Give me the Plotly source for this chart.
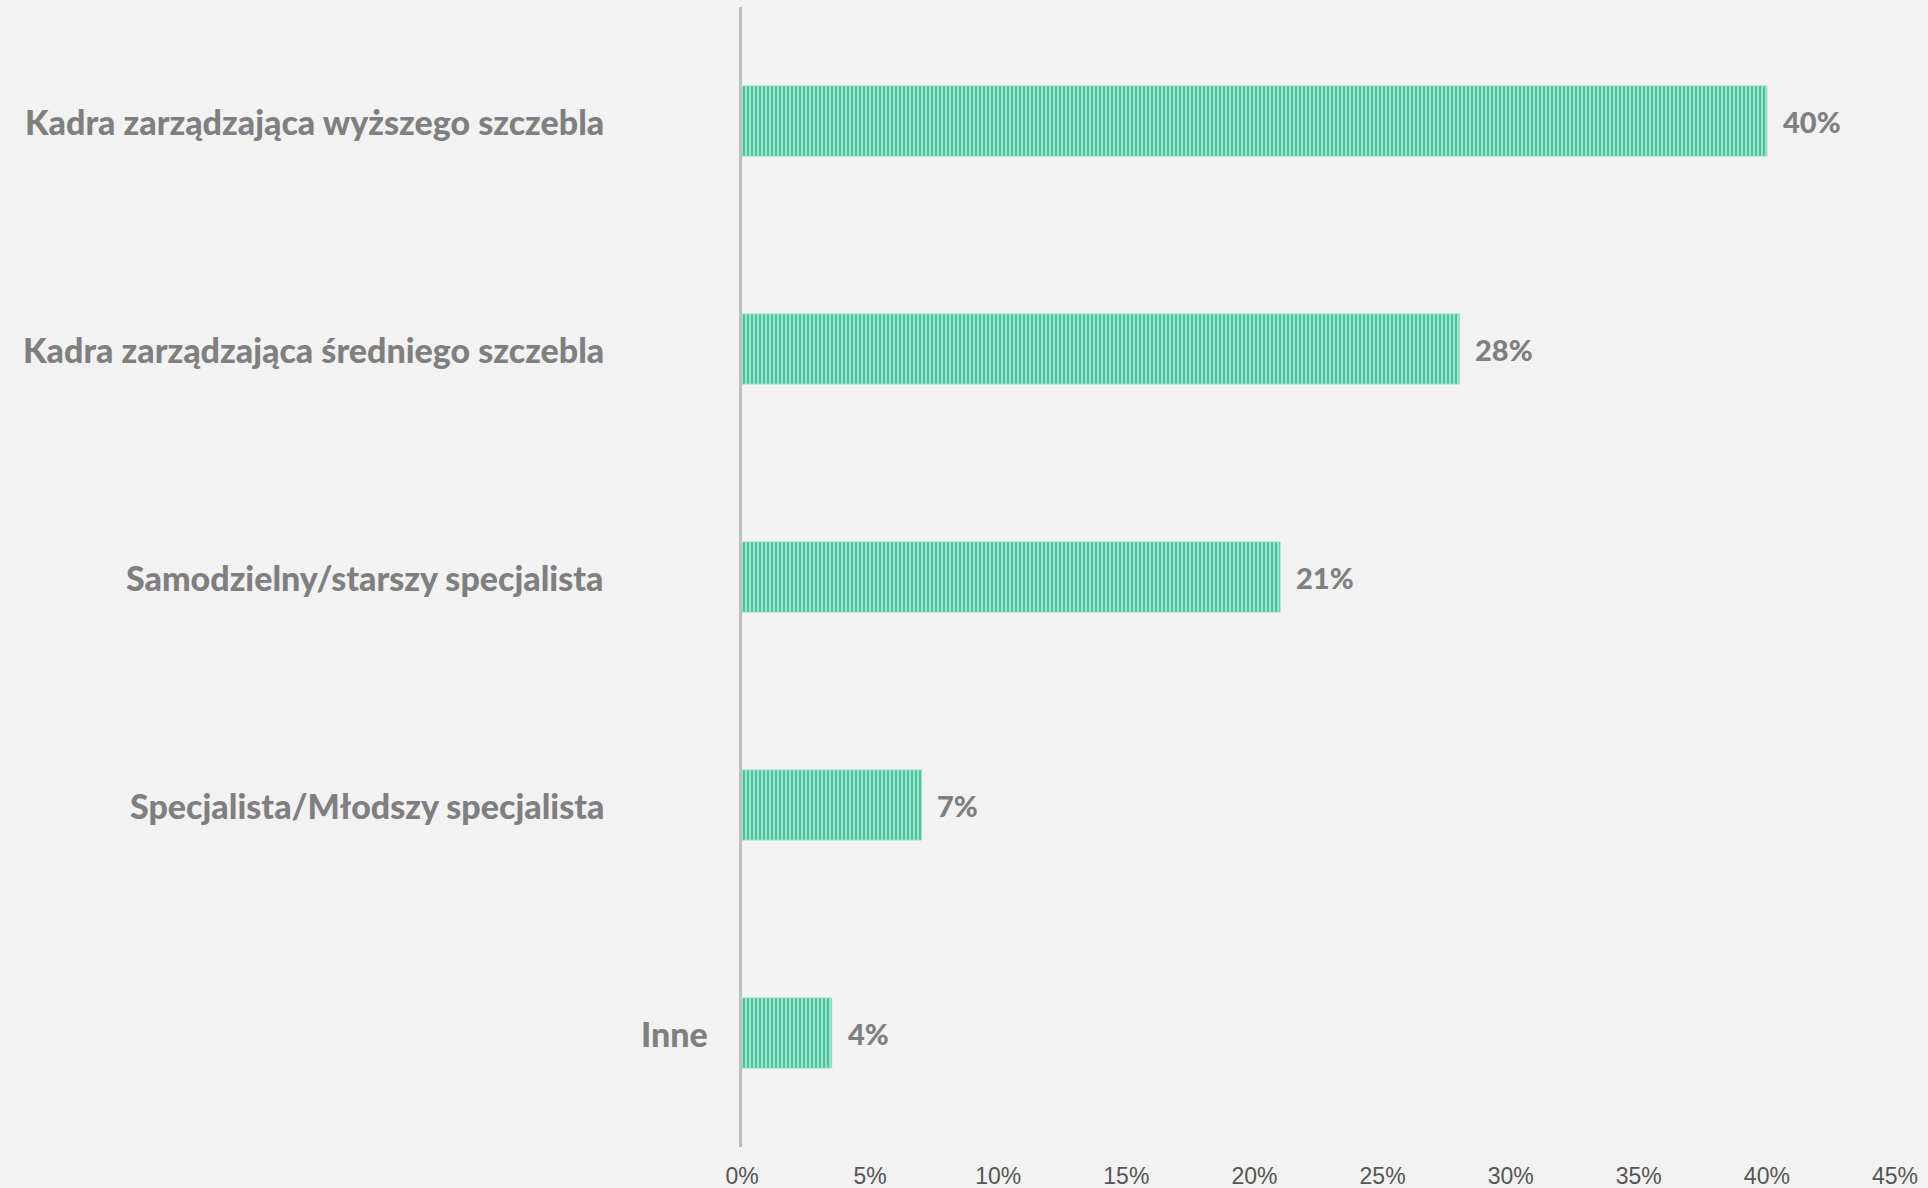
import plotly.graph_objects as go

categories = [
    "Kadra zarządzająca wyższego szczebla",
    "Kadra zarządzająca średniego szczebla",
    "Samodzielny/starszy specjalista",
    "Specjalista/Młodszy specjalista",
    "Inne",
]
values = [40, 28, 21, 7, 3.5]
value_labels = ["40%", "28%", "21%", "7%", "4%"]
tick_vals = [0, 5, 10, 15, 20, 25, 30, 35, 40, 45]
tick_text = ["0%", "5%", "10%", "15%", "20%", "25%", "30%", "35%", "40%", "45%"]

BG = "#f2f2f2"
LABEL_GRAY = "#7f7f7f"
LABEL_FONT = "Lato, 'Open Sans', sans-serif"

fig = go.Figure()
fig.add_trace(go.Bar(
    y=categories,
    x=values,
    orientation="h",
    marker=dict(
        color="#b8eadb",
        line=dict(color="#8fdcc4", width=1),
        pattern=dict(shape="|", fgcolor="#45c29c", bgcolor="#b8eadb",
                     size=4, solidity=0.6, fillmode="replace"),
    ),
    hoverinfo="skip",
))

annotations = []
# value labels
for cat, v, t in zip(categories, values, value_labels):
    annotations.append(dict(
        x=v, y=cat, xref="x", yref="y", text=t, showarrow=False,
        xanchor="left", yanchor="middle", xshift=14,
        font=dict(family=LABEL_FONT, size=29, color=LABEL_GRAY, weight=900),
    ))
# category labels
for cat in categories:
    shift = -32 if cat == "Inne" else -136
    annotations.append(dict(
        x=0, y=cat, xref="paper", yref="y", text=cat, showarrow=False,
        xanchor="right", yanchor="middle", xshift=shift,
        font=dict(family=LABEL_FONT, size=34, color=LABEL_GRAY, weight=900),
    ))

fig.update_layout(
    width=1928, height=1188,
    paper_bgcolor=BG, plot_bgcolor=BG,
    margin=dict(l=742, r=33, t=7, b=41, autoexpand=False),
    bargap=0.693,
    showlegend=False,
    annotations=annotations,
    xaxis=dict(
        range=[0, 45], tickvals=tick_vals, ticktext=tick_text,
        showgrid=False, zeroline=False, showline=False, automargin=False,
        ticks="", ticklabelstandoff=13,
        tickfont=dict(family="'Liberation Sans Narrow', 'Arial Narrow', Arial, sans-serif",
                      size=23, color="#555555"),
    ),
    yaxis=dict(
        autorange="reversed", showticklabels=False, automargin=False,
        showgrid=False, zeroline=False,
        showline=True, linecolor="#bfbfbf", linewidth=3, ticks="",
    ),
)

fig.write_html("out.html")
